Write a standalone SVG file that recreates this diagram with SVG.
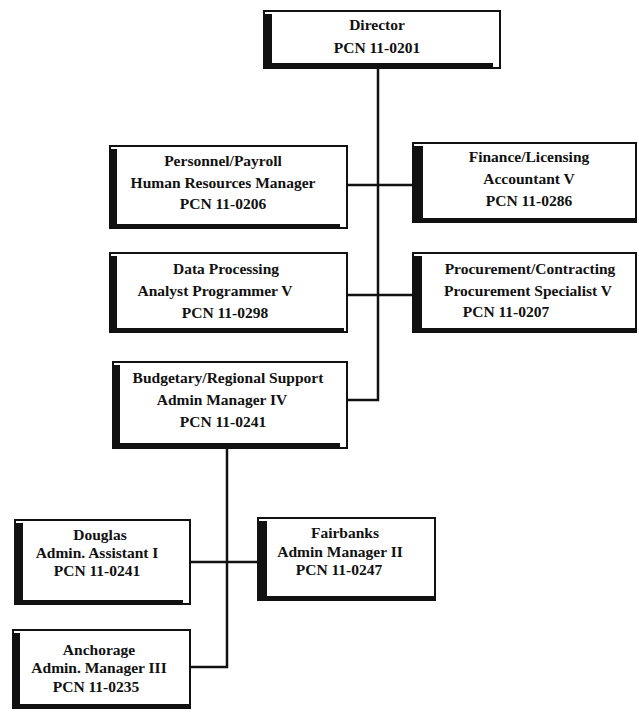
<svg xmlns="http://www.w3.org/2000/svg" width="639" height="716" viewBox="0 0 639 716">
<style>
.frame{fill:#fff;stroke:#111;stroke-width:2}
.bar{fill:#111}
.t{font-family:"Liberation Serif","Times New Roman",serif;font-weight:bold;font-size:15.5px;text-anchor:middle;fill:#111}
.c{stroke:#111;stroke-width:2.5;fill:none}
</style>
<rect width="639" height="716" fill="#fff"/>
<g id="connectors">
<path class="c" d="M378,67 V400 H347"/>
<path class="c" d="M347,185 H413"/>
<path class="c" d="M347,295 H413"/>
<path class="c" d="M227,448 V667 H190"/>
<path class="c" d="M190,562 H258"/>
</g>
<g id="director">
<rect class="frame" x="264" y="11" width="236" height="57"/>
<rect class="bar" x="264" y="14" width="8" height="54"/>
<rect class="bar" x="264" y="63" width="229" height="5"/>
<text class="t" x="377" y="30">Director</text>
<text class="t" x="377" y="53">PCN 11-0201</text>
</g>
<g id="personnel">
<rect class="frame" x="110" y="146" width="237" height="82"/>
<rect class="bar" x="110" y="149" width="7" height="79"/>
<rect class="bar" x="110" y="224" width="230" height="5"/>
<text class="t" x="223" y="166">Personnel/Payroll</text>
<text class="t" x="223" y="188">Human Resources Manager</text>
<text class="t" x="223" y="209">PCN 11-0206</text>
</g>
<g id="finance">
<rect class="frame" x="413" y="143" width="223" height="79"/>
<rect class="bar" x="413" y="146" width="10" height="76"/>
<rect class="bar" x="413" y="218" width="223" height="5"/>
<text class="t" x="529" y="162">Finance/Licensing</text>
<text class="t" x="529" y="184">Accountant V</text>
<text class="t" x="529" y="206">PCN 11-0286</text>
</g>
<g id="dataprocessing">
<rect class="frame" x="110" y="253" width="237" height="79"/>
<rect class="bar" x="110" y="256" width="7" height="76"/>
<rect class="bar" x="110" y="328" width="234" height="5"/>
<text class="t" x="226" y="274">Data Processing</text>
<text class="t" x="215" y="296">Analyst Programmer V</text>
<text class="t" x="225" y="318">PCN 11-0298</text>
</g>
<g id="procurement">
<rect class="frame" x="413" y="253" width="223" height="79"/>
<rect class="bar" x="413" y="256" width="9" height="76"/>
<rect class="bar" x="413" y="328" width="223" height="5"/>
<text class="t" x="530" y="274">Procurement/Contracting</text>
<text class="t" x="528" y="296">Procurement Specialist V</text>
<text class="t" x="506" y="317">PCN 11-0207</text>
</g>
<g id="budgetary">
<rect class="frame" x="113" y="362" width="234" height="86"/>
<rect class="bar" x="113" y="365" width="7" height="83"/>
<rect class="bar" x="113" y="443" width="227" height="6"/>
<text class="t" x="228" y="383">Budgetary/Regional Support</text>
<text class="t" x="222" y="405">Admin Manager IV</text>
<text class="t" x="223" y="427">PCN 11-0241</text>
</g>
<g id="douglas">
<rect class="frame" x="15" y="520" width="175" height="84"/>
<rect class="bar" x="15" y="523" width="8" height="81"/>
<rect class="bar" x="15" y="600" width="168" height="5"/>
<text class="t" x="100" y="540">Douglas</text>
<text class="t" x="97" y="558">Admin. Assistant I</text>
<text class="t" x="97" y="576">PCN 11-0241</text>
</g>
<g id="fairbanks">
<rect class="frame" x="258" y="518" width="177" height="82"/>
<rect class="bar" x="258" y="521" width="9" height="79"/>
<rect class="bar" x="258" y="596" width="177" height="5"/>
<text class="t" x="345" y="538">Fairbanks</text>
<text class="t" x="340" y="557">Admin Manager II</text>
<text class="t" x="339" y="575">PCN 11-0247</text>
</g>
<g id="anchorage">
<rect class="frame" x="13" y="630" width="177" height="78"/>
<rect class="bar" x="13" y="633" width="7" height="75"/>
<rect class="bar" x="13" y="704" width="177" height="5"/>
<text class="t" x="99" y="655">Anchorage</text>
<text class="t" x="99" y="673">Admin. Manager III</text>
<text class="t" x="96" y="692">PCN 11-0235</text>
</g>
</svg>
